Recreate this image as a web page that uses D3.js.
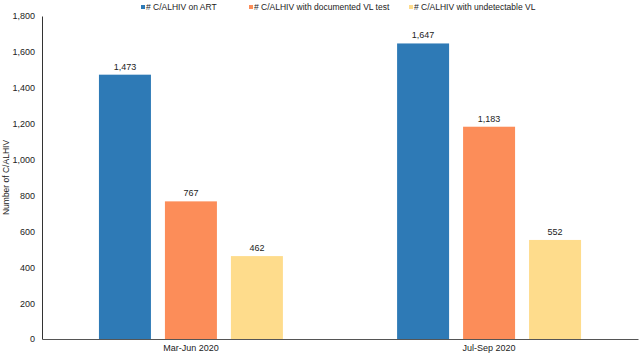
<!DOCTYPE html>
<html>
<head>
<meta charset="utf-8">
<script src="https://cdn.jsdelivr.net/npm/d3@7"></script>
<style>
  body { margin: 0; background: #fff; }
  text { font-family: "Liberation Sans", Arial, sans-serif; fill: #222; }
</style>
</head>
<body>
<div id="chart"></div>
<script>
// Data
const periods = ["Mar-Jun 2020", "Jul-Sep 2020"];
const series = ["# C/ALHIV on ART", "# C/ALHIV with documented VL test", "# C/ALHIV with undetectable VL"];
const onArt = [1473, 1647];
const vlTest = [767, 1183];
const undetectable = [462, 552];
const yTicks = [0, 200, 400, 600, 800, 1000, 1200, 1400, 1600, 1800];
const colors = ["#2e7ab6", "#fc8d59", "#fedc8c"];

const values = [onArt, vlTest, undetectable];

const W = 640, H = 354;
const margin = {top: 16, right: 2, bottom: 15, left: 42};
const width = W - margin.left - margin.right,
      height = H - margin.top - margin.bottom;

const svg = d3.select("#chart").append("svg")
    .attr("width", W)
    .attr("height", H);

const g = svg.append("g")
    .attr("transform", `translate(${margin.left},${margin.top})`);

// Scales
const x0 = d3.scaleBand()
    .domain(periods)
    .range([0, width])
    .paddingInner(0.383)
    .paddingOuter(0.191);

const x1 = d3.scaleBand()
    .domain(series)
    .range([0, x0.bandwidth()])
    .paddingInner(0.212);

const y = d3.scaleLinear()
    .domain([0, 1800])
    .range([height, 0]);

const color = d3.scaleOrdinal().domain(series).range(colors);

// Y axis
const yAxis = g.append("g")
    .call(d3.axisLeft(y).tickValues(yTicks).tickSize(0).tickPadding(7).tickFormat(d3.format(",")));
yAxis.select(".domain").attr("stroke", "#333");
yAxis.selectAll("text").style("font-size", "9px").style("fill", "#222")
    .style("font-family", "'Liberation Sans', Arial, sans-serif");

// X axis
const xAxis = g.append("g")
    .attr("transform", `translate(0,${height})`)
    .call(d3.axisBottom(x0).tickSize(0).tickPadding(6));
xAxis.select(".domain").attr("stroke", "#555");
xAxis.selectAll("text").style("font-size", "9px").style("fill", "#222")
    .style("font-family", "'Liberation Sans', Arial, sans-serif");

// Bars
const rows = periods.map((p, i) => ({
    period: p,
    items: series.map((s, j) => ({key: s, value: values[j][i]}))
}));

const groups = g.selectAll(".grp")
    .data(rows)
    .enter().append("g")
    .attr("transform", d => `translate(${x0(d.period)},0)`);

groups.selectAll("rect")
    .data(d => d.items)
    .enter().append("rect")
    .attr("x", d => x1(d.key))
    .attr("y", d => y(d.value))
    .attr("width", x1.bandwidth())
    .attr("height", d => height - y(d.value))
    .attr("fill", d => color(d.key));

groups.selectAll(".val")
    .data(d => d.items)
    .enter().append("text")
    .attr("x", d => x1(d.key) + x1.bandwidth() / 2)
    .attr("y", d => y(d.value) - 5)
    .attr("text-anchor", "middle")
    .style("font-size", "9px")
    .text(d => d3.format(",")(d.value));

// Y axis title
svg.append("text")
    .attr("transform", `translate(9,${margin.top + height / 2}) rotate(-90)`)
    .attr("text-anchor", "middle")
    .style("font-size", "8.5px")
    .text("Number of C/ALHIV");

// Legend
const legendX = [141, 249, 409];
const legend = svg.selectAll(".legend")
    .data(series)
    .enter().append("g")
    .attr("transform", (d, i) => `translate(${legendX[i]},7)`);

legend.append("rect")
    .attr("x", 0)
    .attr("y", -2)
    .attr("width", 4)
    .attr("height", 4)
    .attr("fill", d => color(d));

legend.append("text")
    .attr("x", 5)
    .attr("y", 3)
    .style("font-size", "8.5px")
    .text(d => d);
</script>
</body>
</html>
